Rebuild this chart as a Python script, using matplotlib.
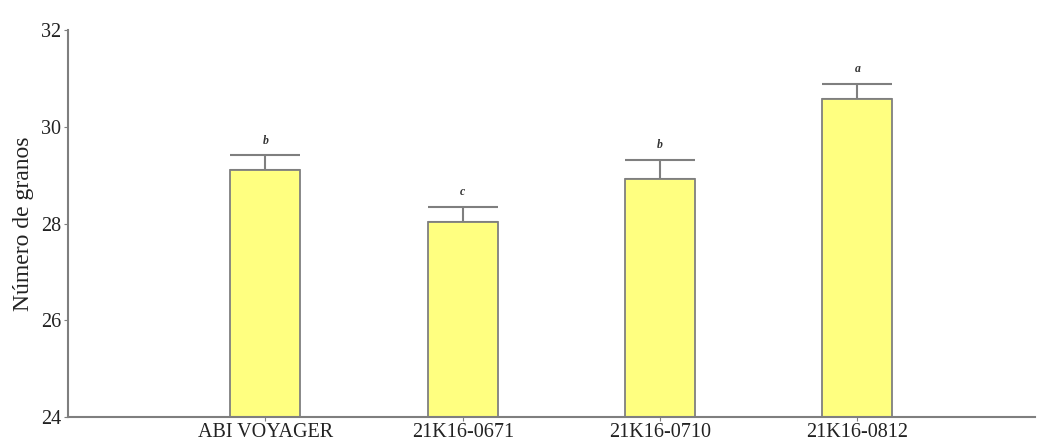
import numpy as np
import matplotlib.pyplot as plt

plt.rcParams['font.family'] = ['Liberation Serif', 'DejaVu Serif']

lineas = ['ABI VOYAGER', '21K16-0671', '21K16-0710', '21K16-0812']
granos = [29.1, 28.03, 28.92, 30.57]
error = [0.31, 0.32, 0.39, 0.32]
letras = ['b', 'c', 'b', 'a']

gris = '#7f7f7f'
x = np.arange(len(lineas))

fig = plt.figure(figsize=(10.41, 4.43), dpi=100)
ax = fig.add_axes([0.0653, 0.0587, 0.929, 0.8735])

ax.bar(x, granos, width=0.355, color='#ffff80', edgecolor=gris, linewidth=1.3, zorder=2)
ax.errorbar(x, granos, yerr=[np.zeros(len(error)), error], fmt='none',
            ecolor=gris, elinewidth=1.5, capsize=25, capthick=1.5, zorder=1)

for xi, g, e, l in zip(x, granos, error, letras):
    ax.text(xi, g + e + 0.18, l, ha='center', va='bottom', fontsize=8.5,
            fontweight='bold', fontstyle='italic', color='#333333')

ax.set_xlim(-1.0, 3.9)
ax.set_ylim(24, 32)
ax.set_yticks([24, 26, 28, 30, 32])
ax.set_xticks(x)
ax.set_xticklabels(lineas, fontsize=14.5, color='#222222')
ax.tick_params(axis='y', labelsize=14.5, labelcolor='#222222', length=3, color=gris, pad=2)
ax.tick_params(axis='x', length=3, color=gris, pad=1)
ax.set_ylabel('Número de granos', fontsize=17, color='#222222', labelpad=5)

for s in ['top', 'right']:
    ax.spines[s].set_visible(False)
for s in ['left', 'bottom']:
    ax.spines[s].set_color(gris)
    ax.spines[s].set_linewidth(1.5)

fig.savefig('out.png', dpi=100)
